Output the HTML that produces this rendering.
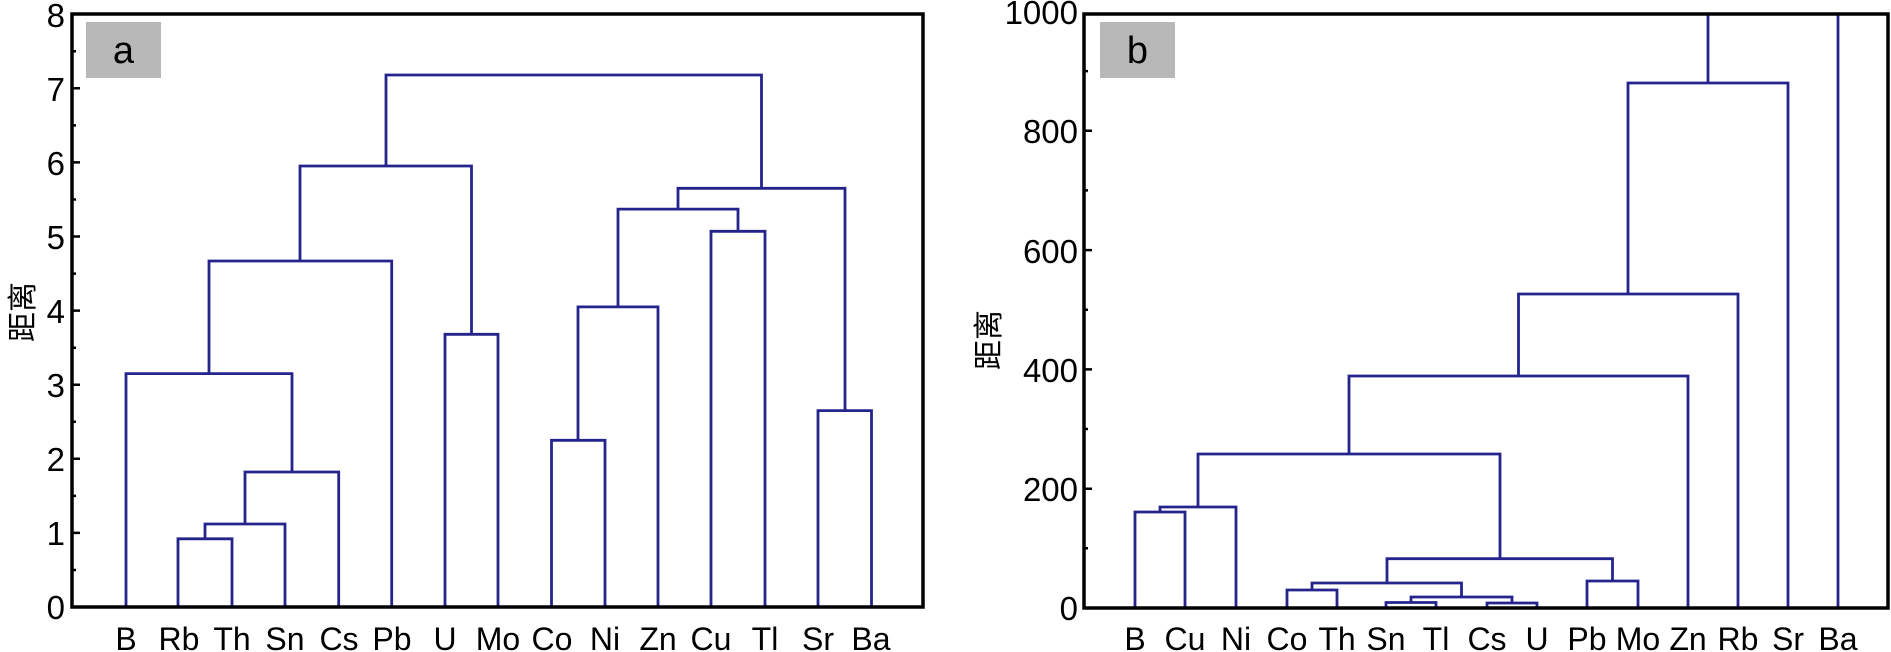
<!DOCTYPE html>
<html><head><meta charset="utf-8"><style>
html,body{margin:0;padding:0;background:#fff;}
svg{display:block;}
text{font-family:"Liberation Sans","Noto Sans CJK SC",sans-serif;fill:#000;}
</style></head><body>
<svg width="1891" height="652" viewBox="0 0 1891 652" xmlns="http://www.w3.org/2000/svg">
<!-- Panel a -->
<rect x="86" y="22" width="75" height="56" fill="#b8b8b8"/>
<text x="123.5" y="63" font-size="38" text-anchor="middle">a</text>
<g fill="none" stroke="#24248c" stroke-width="2.8">
<path d="M178,607 V538.8 H232 V607"/>
<path d="M205,538.8 V524 H285 V607"/>
<path d="M245,524 V472 H338.7 V607"/>
<path d="M126,607 V373.6 H292 V472"/>
<path d="M209,373.6 V261 H391.7 V607"/>
<path d="M445,607 V334.3 H498 V607"/>
<path d="M300,261 V166 H471.5 V334.3"/>
<path d="M551.5,607 V440.3 H605 V607"/>
<path d="M578,440.3 V306.9 H658 V607"/>
<path d="M711,607 V231.3 H765 V607"/>
<path d="M618,306.9 V209.1 H738 V231.3"/>
<path d="M818,607 V410.6 H871.5 V607"/>
<path d="M678,209.1 V188.3 H845 V410.6"/>
<path d="M386,166 V75 H761.5 V188.3"/>
</g>
<rect x="72" y="14" width="851" height="593" fill="none" stroke="#000" stroke-width="3.5"/>
<g stroke="#000" stroke-width="2.5">
<path d="M72,607h8M72,532.9h8M72,458.8h8M72,384.7h8M72,310.6h8M72,236.5h8M72,162.4h8M72,88.3h8"/>
<path d="M72,570h4M72,495.9h4M72,421.8h4M72,347.7h4M72,273.6h4M72,199.5h4M72,125.4h4M72,51.3h4"/>
</g>
<g font-size="33" text-anchor="end">
<text x="65" y="619">0</text><text x="65" y="545">1</text><text x="65" y="471">2</text><text x="65" y="397">3</text>
<text x="65" y="323">4</text><text x="65" y="249">5</text><text x="65" y="175">6</text><text x="65" y="101">7</text><text x="65" y="27">8</text>
</g>
<text transform="translate(33,312) rotate(-90)" font-size="30" text-anchor="middle">距离</text>
<g font-size="32" text-anchor="middle">
<text x="126" y="650">B</text><text x="179" y="650">Rb</text><text x="232" y="650">Th</text><text x="285" y="650">Sn</text>
<text x="339" y="650">Cs</text><text x="392" y="650">Pb</text><text x="445" y="650">U</text><text x="498" y="650">Mo</text>
<text x="552" y="650">Co</text><text x="605" y="650">Ni</text><text x="658" y="650">Zn</text><text x="711" y="650">Cu</text>
<text x="765" y="650">Tl</text><text x="818" y="650">Sr</text><text x="871" y="650">Ba</text>
</g>
<!-- Panel b -->
<rect x="1100" y="22" width="75" height="56" fill="#b8b8b8"/>
<text x="1137.5" y="63" font-size="38" text-anchor="middle">b</text>
<g fill="none" stroke="#24248c" stroke-width="2.8">
<path d="M1135,608 V512 H1185 V608"/>
<path d="M1160,512 V507 H1236 V608"/>
<path d="M1287,608 V590 H1337 V608"/>
<path d="M1386,608 V602.5 H1436 V608"/>
<path d="M1487,608 V603 H1537 V608"/>
<path d="M1411,602.5 V597 H1512 V603"/>
<path d="M1312,590 V583 H1461.5 V597"/>
<path d="M1587,608 V581 H1638 V608"/>
<path d="M1387,583 V558.7 H1612.5 V581"/>
<path d="M1198,507 V454 H1500 V558.7"/>
<path d="M1349,454 V376 H1688 V608"/>
<path d="M1518.5,376 V294 H1738 V608"/>
<path d="M1628,294 V83 H1788 V608"/>
<path d="M1708,83 V14"/>
<path d="M1838,608 V14"/>
</g>
<rect x="1084" y="14" width="804" height="594" fill="none" stroke="#000" stroke-width="3.5"/>
<g stroke="#000" stroke-width="2.5">
<path d="M1084,608h8M1084,488.7h8M1084,369.4h8M1084,250.1h8M1084,130.8h8"/>
<path d="M1084,548.3h4M1084,429h4M1084,309.7h4M1084,190.4h4M1084,71.1h4"/>
</g>
<g font-size="33" text-anchor="end">
<text x="1078" y="620">0</text><text x="1078" y="501">200</text><text x="1078" y="382">400</text>
<text x="1078" y="263">600</text><text x="1078" y="143">800</text><text x="1078" y="24">1000</text>
</g>
<text transform="translate(999,340) rotate(-90)" font-size="30" text-anchor="middle">距离</text>
<g font-size="32" text-anchor="middle">
<text x="1135" y="650">B</text><text x="1185" y="650">Cu</text><text x="1236" y="650">Ni</text><text x="1287" y="650">Co</text>
<text x="1337" y="650">Th</text><text x="1386" y="650">Sn</text><text x="1436" y="650">Tl</text><text x="1487" y="650">Cs</text>
<text x="1537" y="650">U</text><text x="1587" y="650">Pb</text><text x="1638" y="650">Mo</text><text x="1688" y="650">Zn</text>
<text x="1738" y="650">Rb</text><text x="1788" y="650">Sr</text><text x="1838" y="650">Ba</text>
</g>
</svg>
</body></html>
